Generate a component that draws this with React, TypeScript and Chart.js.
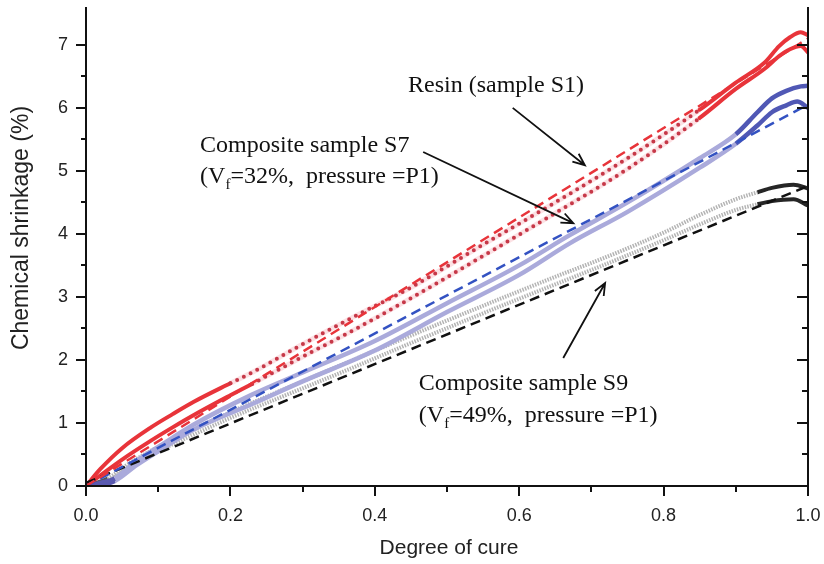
import React, { useEffect, useRef } from "react";
import { Chart, registerables } from "chart.js";

Chart.register(...registerables);

// ---------- axis ranges & tick labels ----------
const X_MIN = 0;
const X_MAX = 1;
const Y_MIN = 0;
const Y_MAX = 7.6;
const X_STEP = 0.1;
const Y_STEP = 0.5;
const xTickLabels = ["0.0", "0.2", "0.4", "0.6", "0.8", "1.0"];
const yTickLabels = ["0", "1", "2", "3", "4", "5", "6", "7"];
const xTitle = "Degree of cure";
const yTitle = "Chemical shrinkage (%)";

// ---------- resin sample S1 (red) ----------
const resinAX = [0, 0.02, 0.05, 0.09, 0.12, 0.15, 0.2, 0.23, 0.3, 0.37, 0.45, 0.55, 0.65, 0.75, 0.85, 0.9, 0.94, 0.96, 0.975, 0.99, 1.0];
const resinAY = [0, 0.27, 0.6, 0.93, 1.14, 1.34, 1.63, 1.8, 2.25, 2.68, 3.15, 3.83, 4.5, 5.2, 5.97, 6.4, 6.72, 6.98, 7.12, 7.2, 7.15];
const resinBX = [0, 0.02, 0.05, 0.09, 0.12, 0.15, 0.2, 0.23, 0.3, 0.37, 0.45, 0.55, 0.65, 0.75, 0.85, 0.9, 0.94, 0.96, 0.975, 0.99, 1.0];
const resinBY = [0, 0.17, 0.42, 0.72, 0.93, 1.13, 1.44, 1.62, 2.05, 2.47, 2.98, 3.65, 4.33, 5.03, 5.84, 6.3, 6.62, 6.82, 6.93, 6.98, 6.88];
const resinFitX = [0, 1];
const resinFitY = [0, 7.1];

// ---------- composite S7 (blue) ----------
const s7AX = [0, 0.02, 0.04, 0.07, 0.1, 0.15, 0.23, 0.3, 0.4, 0.5, 0.6, 0.67, 0.75, 0.85, 0.9, 0.93, 0.95, 0.97, 0.99, 1.0];
const s7AY = [0, 0.05, 0.12, 0.4, 0.62, 0.98, 1.45, 1.8, 2.3, 2.9, 3.5, 3.98, 4.5, 5.2, 5.58, 5.93, 6.15, 6.27, 6.34, 6.35];
const s7BX = [0, 0.02, 0.04, 0.07, 0.1, 0.15, 0.23, 0.3, 0.4, 0.5, 0.6, 0.67, 0.75, 0.85, 0.9, 0.93, 0.95, 0.97, 0.985, 1.0];
const s7BY = [0, 0.02, 0.08, 0.33, 0.55, 0.9, 1.3, 1.66, 2.15, 2.76, 3.35, 3.85, 4.35, 5.05, 5.43, 5.72, 5.93, 6.04, 6.1, 6.0];
const s7FitX = [0, 1];
const s7FitY = [0, 6.05];

// ---------- composite S9 (black / grey) ----------
const s9AX = [0, 0.03, 0.06, 0.1, 0.15, 0.2, 0.3, 0.37, 0.44, 0.55, 0.65, 0.72, 0.8, 0.85, 0.9, 0.93, 0.95, 0.98, 1.0];
const s9AY = [0, 0.12, 0.36, 0.62, 0.9, 1.17, 1.66, 2.0, 2.34, 2.86, 3.32, 3.63, 4.02, 4.3, 4.55, 4.66, 4.73, 4.78, 4.72];
const s9BX = [0, 0.03, 0.06, 0.1, 0.15, 0.2, 0.3, 0.37, 0.44, 0.55, 0.65, 0.72, 0.8, 0.85, 0.9, 0.93, 0.95, 0.98, 1.0];
const s9BY = [0, 0.08, 0.3, 0.55, 0.82, 1.08, 1.55, 1.88, 2.22, 2.74, 3.2, 3.52, 3.9, 4.15, 4.38, 4.47, 4.52, 4.55, 4.45];
const s9FitX = [0, 1];
const s9FitY = [0.05, 4.76];

// ---------- annotation texts ----------
const resinLabel = "Resin (sample S1)";
const s7Label1 = "Composite sample S7";
const s7Label2 = ["(V", "f", "=32%,  pressure =P1)"];
const s9Label1 = "Composite sample S9";
const s9Label2 = ["(V", "f", "=49%,  pressure =P1)"];

// annotation placement (data coordinates: x, baseline y)
const textPlacements = [
  { x: 0.446, y: 6.25, parts: [resinLabel] },
  { x: 0.158, y: 5.3, parts: [s7Label1] },
  { x: 0.158, y: 4.81, parts: s7Label2 },
  { x: 0.461, y: 1.52, parts: [s9Label1] },
  { x: 0.461, y: 1.02, parts: s9Label2 },
];
const arrowPlacements = [
  { x0: 0.591, y0: 6.0, x1: 0.691, y1: 5.09 },
  { x0: 0.467, y0: 5.3, x1: 0.675, y1: 4.17 },
  { x0: 0.661, y0: 2.03, x1: 0.719, y1: 3.22 },
];

const zip = (xs: number[], ys: number[]) => xs.map((x, i) => ({ x, y: ys[i] }));

const RED = "#e8343a";
const RED_DOT = "#c63848";
const BLUE_DASH = "#3352c2";
const LAVENDER = "#aaaadb";
const BLUE_END = "#5058b5";
const GREY = "#b4b4b4";
const DARK = "#262626";

function redHalo(xs: number[], ys: number[], dotFrom: number, dotTo: number) {
  return {
    data: zip(xs, ys),
    borderColor: "rgba(0,0,0,0)",
    borderWidth: 5,
    pointRadius: 0,
    cubicInterpolationMode: "monotone" as const,
    segment: {
      borderColor: (c: any) => (c.p0.parsed.x >= dotFrom && c.p0.parsed.x < dotTo ? "rgba(240,120,130,0.22)" : undefined),
    },
    order: 9,
  };
}

function redCurve(xs: number[], ys: number[], dotFrom: number, dotTo: number) {
  return {
    data: zip(xs, ys),
    borderColor: RED,
    borderWidth: 4,
    pointRadius: 0,
    cubicInterpolationMode: "monotone" as const,
    borderCapStyle: "round" as const,
    segment: {
      borderColor: (c: any) => (c.p0.parsed.x >= dotFrom && c.p0.parsed.x < dotTo ? RED_DOT : undefined),
      borderDash: (c: any) => (c.p0.parsed.x >= dotFrom && c.p0.parsed.x < dotTo ? [0, 7.5] : undefined),
    },
    order: 5,
  };
}

function blueCurve(xs: number[], ys: number[]) {
  return {
    data: zip(xs, ys),
    borderColor: LAVENDER,
    borderWidth: 4.5,
    pointRadius: 0,
    cubicInterpolationMode: "monotone" as const,
    segment: {
      borderColor: (c: any) => (c.p0.parsed.x < 0.04 ? "#5a5ab0" : c.p0.parsed.x >= 0.9 ? BLUE_END : undefined),
    },
    order: 6,
  };
}

function greyCurve(xs: number[], ys: number[]) {
  return {
    data: zip(xs, ys),
    borderColor: GREY,
    borderWidth: 4,
    pointRadius: 0,
    borderDash: [1.5, 1.2],
    cubicInterpolationMode: "monotone" as const,
    segment: {
      borderColor: (c: any) => (c.p0.parsed.x < 0.03 ? "#555" : c.p0.parsed.x >= 0.93 ? DARK : undefined),
      borderDash: (c: any) => (c.p0.parsed.x < 0.03 || c.p0.parsed.x >= 0.93 ? [] : undefined),
    },
    order: 7,
  };
}

function fitLine(xs: number[], ys: number[], color: string) {
  return {
    data: zip(xs, ys),
    borderColor: color,
    borderWidth: 2.5,
    borderDash: [10, 6],
    pointRadius: 0,
    order: 1,
  };
}

const decorPlugin = {
  id: "decor",
  afterDraw(chart: any) {
    const { ctx, chartArea: a, scales } = chart;
    const xs = scales.x;
    const ys = scales.y;
    ctx.save();
    ctx.strokeStyle = "#111";
    ctx.lineWidth = 2;
    ctx.lineCap = "butt";
    ctx.beginPath();
    ctx.moveTo(a.left, a.bottom + 1);
    ctx.lineTo(a.left, a.top);
    ctx.moveTo(a.left - 1, a.bottom);
    ctx.lineTo(a.right + 1, a.bottom);
    ctx.moveTo(a.right, a.top);
    ctx.lineTo(a.right, a.bottom);
    ctx.stroke();

    ctx.beginPath();
    ys.ticks.forEach((t: any) => {
      const py = Math.round(ys.getPixelForValue(t.value));
      const major = Math.abs(t.value - Math.round(t.value)) < 1e-6;
      const len = major ? 10 : 5;
      ctx.moveTo(a.left, py);
      ctx.lineTo(a.left - len, py);
      ctx.moveTo(a.right, py);
      ctx.lineTo(a.right - (major ? 11 : 6), py);
    });
    xs.ticks.forEach((t: any) => {
      const px = Math.round(xs.getPixelForValue(t.value));
      const major = Math.round(t.value * 10) % 2 === 0;
      const len = major ? 10 : 6;
      ctx.moveTo(px, a.bottom);
      ctx.lineTo(px, a.bottom + len);
    });
    ctx.stroke();

    // axis titles
    ctx.fillStyle = "#222";
    ctx.font = '21px "Liberation Sans", Arial, sans-serif';
    ctx.textAlign = "center";
    ctx.textBaseline = "middle";
    ctx.fillText(xTitle, 449, 548);
    ctx.save();
    ctx.translate(22, 228);
    ctx.rotate(-Math.PI / 2);
    ctx.font = '23px "Liberation Sans", Arial, sans-serif';
    ctx.fillText(yTitle, 0, 0);
    ctx.restore();

    // annotations
    ctx.fillStyle = "#111";
    ctx.textAlign = "left";
    ctx.textBaseline = "alphabetic";
    textPlacements.forEach((p) => {
      let px = xs.getPixelForValue(p.x);
      const py = ys.getPixelForValue(p.y);
      p.parts.forEach((s, i) => {
        const sub = p.parts.length === 3 && i === 1;
        ctx.font = sub ? '15px "Liberation Serif", serif' : '24px "Liberation Serif", serif';
        ctx.fillText(s, px, sub ? py + 6 : py);
        px += ctx.measureText(s).width;
      });
    });
    ctx.strokeStyle = "#111";
    ctx.lineWidth = 1.8;
    arrowPlacements.forEach((ar) => {
      const x0 = xs.getPixelForValue(ar.x0);
      const y0 = ys.getPixelForValue(ar.y0);
      const x1 = xs.getPixelForValue(ar.x1);
      const y1 = ys.getPixelForValue(ar.y1);
      const ang = Math.atan2(y1 - y0, x1 - x0);
      const h = 13;
      const spread = 0.4;
      ctx.beginPath();
      ctx.moveTo(x0, y0);
      ctx.lineTo(x1, y1);
      ctx.moveTo(x1 - h * Math.cos(ang - spread), y1 - h * Math.sin(ang - spread));
      ctx.lineTo(x1, y1);
      ctx.lineTo(x1 - h * Math.cos(ang + spread), y1 - h * Math.sin(ang + spread));
      ctx.stroke();
    });
    ctx.restore();
  },
};

export default function App() {
  const ref = useRef<HTMLCanvasElement | null>(null);
  useEffect(() => {
    if (!ref.current) return;
    const tickFont = { family: '"Liberation Sans", Arial, sans-serif', size: 18 };
    const chart = new Chart(ref.current, {
      type: "line",
      data: {
        datasets: [
          fitLine(resinFitX, resinFitY, RED),
          fitLine(s7FitX, s7FitY, BLUE_DASH),
          fitLine(s9FitX, s9FitY, "#111"),
          redCurve(resinAX, resinAY, 0.2, 0.8),
          redCurve(resinBX, resinBY, 0.23, 0.8),
          blueCurve(s7AX, s7AY),
          blueCurve(s7BX, s7BY),
          greyCurve(s9AX, s9AY),
          greyCurve(s9BX, s9BY),
          redHalo(resinAX, resinAY, 0.2, 0.8),
          redHalo(resinBX, resinBY, 0.23, 0.8),
        ] as any,
      },
      options: {
        animation: false,
        responsive: false,
        events: [],
        layout: { padding: { left: 0, right: 16, top: 7, bottom: 0 } },
        plugins: { legend: { display: false }, tooltip: { enabled: false }, title: { display: false } },
        scales: {
          x: {
            type: "linear",
            min: X_MIN,
            max: X_MAX,
            border: { display: false },
            grid: { display: true, drawOnChartArea: false, drawTicks: true, tickLength: 10, tickColor: "rgba(0,0,0,0)" },
            ticks: {
              stepSize: X_STEP,
              autoSkip: false,
              maxRotation: 0,
              padding: 9,
              color: "#222",
              font: tickFont,
              callback: (v: any) => {
                const i = Math.round(Number(v) / X_STEP);
                return i % 2 === 0 ? xTickLabels[i / 2] : "";
              },
            },
            afterFit: (s: any) => {
              s.height = 78;
              s.paddingLeft = 0;
              s.paddingRight = 0;
            },
          },
          y: {
            type: "linear",
            min: Y_MIN,
            max: Y_MAX,
            border: { display: false },
            grid: { display: true, drawOnChartArea: false, drawTicks: true, tickLength: 10, tickColor: "rgba(0,0,0,0)" },
            afterBuildTicks: (s: any) => {
              s.ticks = s.ticks.filter((t: any) => Math.abs(t.value / Y_STEP - Math.round(t.value / Y_STEP)) < 1e-6);
            },
            ticks: {
              stepSize: Y_STEP,
              autoSkip: false,
              padding: 8,
              color: "#222",
              font: tickFont,
              callback: (v: any) => {
                const n = Number(v);
                return Math.abs(n - Math.round(n)) < 1e-6 ? yTickLabels[Math.round(n)] : "";
              },
            },
            afterFit: (s: any) => {
              s.width = 86;
              s.paddingTop = 0;
              s.paddingBottom = 0;
            },
          },
        },
      },
      plugins: [decorPlugin],
    });
    return () => chart.destroy();
  }, []);
  return (
    <div style={{ position: "absolute", left: 0, top: 0, width: 824, height: 564, background: "#fff" }}>
      <canvas ref={ref} width={824} height={564} />
    </div>
  );
}
